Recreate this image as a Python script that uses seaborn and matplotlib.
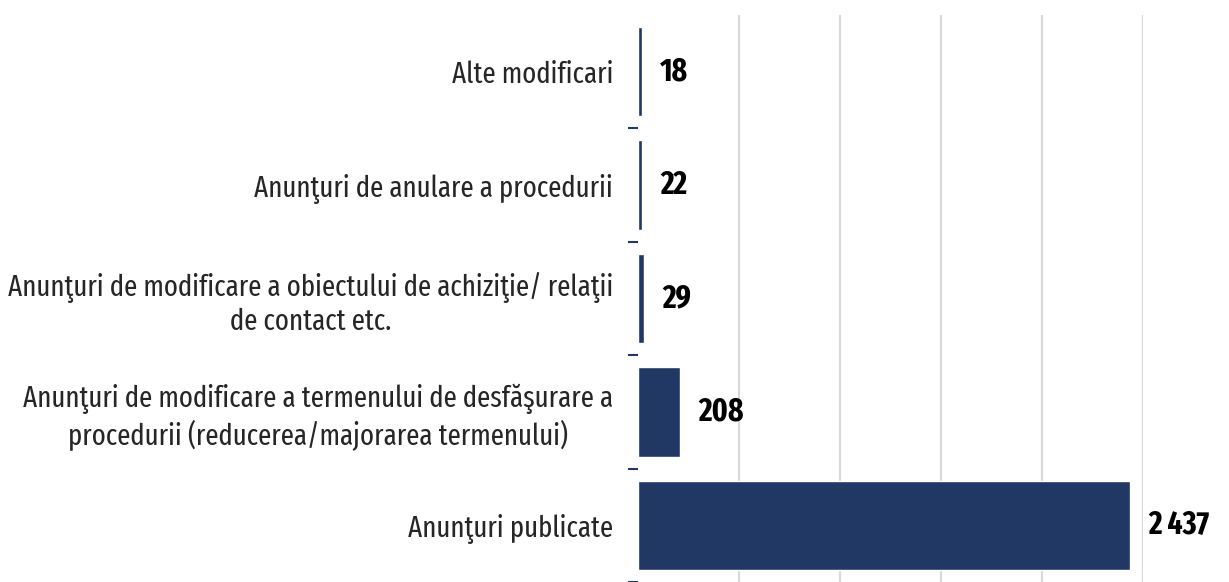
import os
import matplotlib
matplotlib.use("Agg")
import matplotlib.pyplot as plt
from matplotlib import font_manager
from matplotlib.font_manager import FontProperties
from matplotlib.ticker import FixedLocator
import seaborn as sns
import pandas as pd

categories = [
    "Alte modificari",
    "Anunţuri de anulare a procedurii",
    "Anunţuri de modificare a obiectului de achiziţie/ relaţii\nde contact etc.",
    "Anunţuri de modificare a termenului de desfăşurare a\nprocedurii (reducerea/majorarea termenului)",
    "Anunţuri publicate",
]
values = [18, 22, 29, 208, 2437]
value_labels = ["18", "22", "29", "208", "2 437"]

BAR_COLOR = "#213864"
GRID_COLOR = "#D9D9D9"

sns.set_theme(style="white")
plt.rcParams["font.family"] = ["DejaVu Sans"]


def _weight(f):
    w = f.weight
    if isinstance(w, str):
        return {"normal": 400, "regular": 400, "book": 400, "medium": 500,
                "semibold": 600, "demibold": 600, "bold": 700,
                "heavy": 800, "black": 900, "light": 300}.get(w.lower(), 400)
    return int(w)


def narrow_font(bold):
    """Pick the narrowest suitable sans face that is installed."""
    prefs = ["liberation sans narrow", "arial narrow",
             "extracondensed", "extra condensed", "extra-condensed",
             "condensed", "narrow"]
    best = None
    for f in font_manager.fontManager.ttflist:
        base = os.path.basename(f.fname).lower()
        key = f.name.lower() + " " + base
        if f.style != "normal" or "italic" in key or "oblique" in key:
            continue
        if "ultra" in key or "semicondensed" in key or "semi condensed" in key:
            continue
        if "mono" in key or "serif" in key.replace("sans serif", ""):
            continue
        rank = None
        for i, p in enumerate(prefs):
            if p in key:
                rank = i
                break
        if rank is None:
            continue
        w = _weight(f)
        score = abs(w - (700 if bold else 400))
        if any(s in base for s in ("light", "thin", "medium", "semibold", "black",
                                   "extrabold", "extralight")):
            score += 300
        cand = (rank, score, f.fname)
        if best is None or cand < best:
            best = cand
    if best is None or best[1] > 150:
        return None
    return best[2]


reg_path = narrow_font(False)
bold_path = narrow_font(True)

if reg_path:
    label_fp = FontProperties(fname=reg_path, size=21)
else:
    label_fp = FontProperties(family="DejaVu Sans", size=15.5)
if bold_path:
    value_fp = FontProperties(fname=bold_path, size=23)
else:
    value_fp = FontProperties(family="DejaVu Sans", weight="bold", size=17)

df = pd.DataFrame({"categorie": categories, "numar": values})

fig = plt.figure(figsize=(12.29, 5.82), dpi=100)
ax = fig.add_axes([638 / 1229, 0.0, (1143 - 638) / 1229, (582 - 15) / 582])

sns.barplot(data=df, x="numar", y="categorie", orient="h", color=BAR_COLOR,
            width=0.79, saturation=1, ax=ax, zorder=3)

ax.set_xlim(0, 2500)
ax.set_ylim(4.5, -0.5)
ax.set_xticks([500, 1000, 1500, 2000, 2500])
ax.set_xticklabels([])
ax.tick_params(axis="x", length=0)
ax.grid(axis="x", color=GRID_COLOR, linewidth=1.6, zorder=0)
ax.set_axisbelow(True)
for s in ax.spines.values():
    s.set_visible(False)

ax.set_xlabel("")
ax.set_ylabel("")
ax.tick_params(axis="y", which="major", length=0, pad=18, labelcolor="#262626")
for t in ax.get_yticklabels():
    t.set_fontproperties(label_fp)
    t.set_horizontalalignment("right")
    t.set_multialignment("center")
ax.yaxis.set_minor_locator(FixedLocator([0.5, 1.5, 2.5, 3.5, 4.5]))
ax.tick_params(axis="y", which="minor", length=7, width=1.5, color=BAR_COLOR, left=True)

for container in ax.containers:
    ax.bar_label(container, labels=value_labels, padding=13,
                 fontproperties=value_fp, color="black", clip_on=False)

fig.savefig("out.png", dpi=100)
